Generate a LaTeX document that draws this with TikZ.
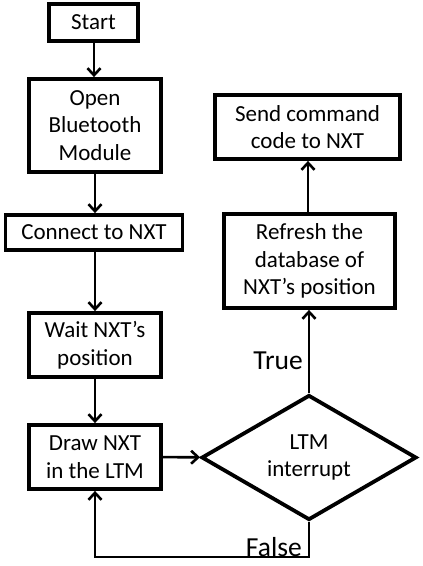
\documentclass[tikz,border=0pt]{standalone}
\usepackage{fontspec}
\setmainfont{Carlito}
\usetikzlibrary{arrows.meta,shapes.geometric}
\begin{document}
\begin{tikzpicture}[x=1pt,y=-1pt,
  box/.style={draw,line width=3.8pt,rectangle,inner sep=0pt,align=center,font=\fontsize{23}{27.5}\selectfont},
  flow/.style={line width=2.6pt,-{Straight Barb[length=7pt,width=13pt,line width=2.6pt]}},
  lbl/.style={font=\fontsize{27.5}{32}\selectfont,inner sep=0pt}]
\useasboundingbox (0,0) rectangle (423,566);
\node[box,minimum width=89pt,minimum height=37pt] (start) at (93.5,22.5) {Start};
\node[box,minimum width=132pt,minimum height=93pt] (open) at (95,125.5) {Open\\Bluetooth\\Module};
\node[box,minimum width=177pt,minimum height=35pt] (conn) at (94,232.5) {Connect to NXT};
\node[box,minimum width=132pt,minimum height=64pt] (wait) at (95,345) {Wait NXT’s\\position};
\node[box,minimum width=132pt,minimum height=64pt] (draw) at (95,457) {Draw NXT\\in the LTM};
\node[box,shape=diamond,aspect=1.72,minimum width=215pt,minimum height=125pt] (dia) at (309,457.5) {LTM\\interrupt};
\node[box,minimum width=171pt,minimum height=94pt] (ref) at (309.5,261) {Refresh the\\database of\\NXT’s position};
\node[box,minimum width=185pt,minimum height=64pt] (send) at (307.5,127) {Send command\\code to NXT};
\coordinate (c1) at (95,557);
\coordinate (c2) at (309,557);
\draw[flow] (start.south -| 94,0) -- (open.north -| 94,0);
\draw[flow] (open) -- (conn.north -| open);
\draw[flow] (conn.south -| open) -- (wait);
\draw[flow] (wait) -- (draw);
\draw[flow] (draw) -- (dia);
\draw[flow] (dia) -- (ref.south -| dia);
\draw[flow] (ref.north -| 308,0) -- (send.south -| 308,0);
\draw[flow] (dia.south) -- (c2) -- (c1) -- (draw);
\node[lbl,anchor=east] (t) at (303,360.5) {True};
\node[lbl,anchor=east] (f) at (302,547) {False};
\end{tikzpicture}
\end{document}
